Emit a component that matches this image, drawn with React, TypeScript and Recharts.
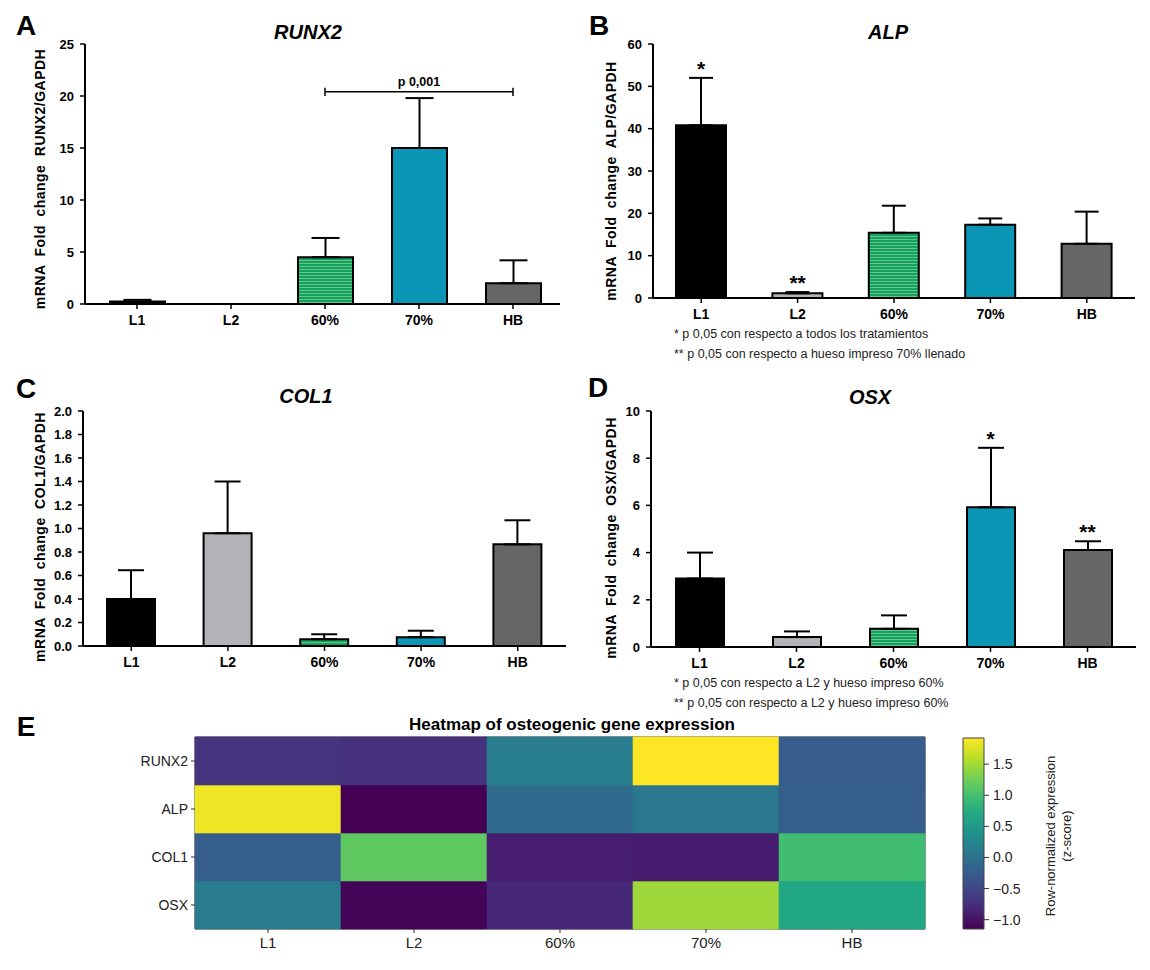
import React from "react";
import {
  BarChart,
  Bar,
  XAxis,
  YAxis,
  Cell,
  ErrorBar,
  ReferenceLine,
  ReferenceDot,
  ReferenceArea,
} from "recharts";

const FONT = '"Liberation Sans", Arial, Helvetica, sans-serif';

// groups shared by every panel
const groups = ["L1", "L2", "60%", "70%", "HB"];
const groupColors = ["#000000", "#b4b4b8", "#17a05a", "#0b96b5", "#666666"];

// A - RUNX2
const runx2Mean = [0.25, 0, 4.5, 15.0, 2.0];
const runx2Err = [0.15, 0, 1.85, 4.8, 2.2];
const runx2Ticks = [0, 5, 10, 15, 20, 25];

// B - ALP
const alpMean = [40.8, 1.1, 15.4, 17.3, 12.8];
const alpErr = [11.2, 0.3, 6.4, 1.5, 7.6];
const alpStars = ["*", "**", "", "", ""];
const alpTicks = [0, 10, 20, 30, 40, 50, 60];

// C - COL1
const col1Mean = [0.4, 0.96, 0.058, 0.075, 0.865];
const col1Err = [0.245, 0.44, 0.042, 0.055, 0.205];
const col1Ticks = [0, 0.2, 0.4, 0.6, 0.8, 1.0, 1.2, 1.4, 1.6, 1.8, 2.0];

// D - OSX
const osxMean = [2.9, 0.42, 0.77, 5.92, 4.11];
const osxErr = [1.1, 0.24, 0.57, 2.52, 0.37];
const osxStars = ["", "", "", "*", "**"];
const osxTicks = [0, 2, 4, 6, 8, 10];

// E - heatmap (row z-scores)
const heatGenes = ["RUNX2", "ALP", "COL1", "OSX"];
const heatRUNX2 = [-0.69, -0.72, 0.15, 1.92, -0.25];
const heatALP = [1.85, -1.15, -0.08, 0.06, -0.24];
const heatCOL1 = [-0.24, 1.15, -0.9, -0.92, 0.97];
const heatOSX = [0.12, -1.12, -0.8, 1.47, 0.68];
const zMin = -1.15;
const zMax = 1.92;
const zTicks = [-1.0, -0.5, 0.0, 0.5, 1.0, 1.5];

const VIRIDIS = [
  "#440154", "#482475", "#414487", "#355f8d", "#2a788e", "#21918c",
  "#22a884", "#44bf70", "#7ad151", "#bddf26", "#fde725",
];

function hexToRgb(h: string) {
  return [1, 3, 5].map((i) => parseInt(h.slice(i, i + 2), 16));
}

function viridis(t: number) {
  const c = Math.max(0, Math.min(1, t)) * 10;
  const i = Math.min(9, Math.floor(c));
  const f = c - i;
  const a = hexToRgb(VIRIDIS[i]);
  const b = hexToRgb(VIRIDIS[i + 1]);
  const m = a.map((v, k) => Math.round(v + (b[k] - v) * f));
  return `rgb(${m[0]},${m[1]},${m[2]})`;
}

type PanelProps = {
  pid: string;
  left: number;
  top: number;
  plotW: number;
  plotH: number;
  means: number[];
  errs: number[];
  stars?: string[];
  domain: [number, number];
  ticks: number[];
  barSize: number;
  cap: number;
  fmt?: (v: number) => string;
  padLeft?: number;
  bracket?: { from: string; to: string; mid: string; y: number; text: string };
};

function GenePanel(p: PanelProps) {
  const data = groups.map((g, i) => ({
    group: g,
    mean: p.means[i],
    err: [0, p.errs[i]],
    top: p.means[i] + p.errs[i],
    star: p.stars ? p.stars[i] : "",
  }));
  const ML = 55;
  const MT = 30;
  const MR = 10;
  const XH = 40;
  const b = p.bracket;
  return (
    <div style={{ position: "absolute", left: p.left - ML, top: p.top - MT }}>
      <BarChart
        width={p.plotW + ML + MR}
        height={p.plotH + MT + XH}
        data={data}
        margin={{ top: MT, right: MR, bottom: 0, left: 0 }}
        barSize={p.barSize}
      >
        <defs>
          <pattern id={`stripes-${p.pid}`} width={6} height={3} patternUnits="userSpaceOnUse">
            <rect width={6} height={3} fill="#17a05a" />
            <rect width={6} height={1} fill="#5ec890" />
          </pattern>
        </defs>
        <XAxis
          dataKey="group"
          height={XH}
          interval={0}
          padding={{ left: p.padLeft ?? 0, right: 0 }}
          axisLine={{ stroke: "#000", strokeWidth: 2 }}
          tickLine={{ stroke: "#000", strokeWidth: 1.5 }}
          tickSize={5}
          tickMargin={6}
          tick={{ fill: "#000", fontSize: 14, fontWeight: 700 }}
        />
        <YAxis
          type="number"
          domain={p.domain}
          ticks={p.ticks}
          interval={0}
          width={ML}
          tickFormatter={p.fmt}
          axisLine={{ stroke: "#000", strokeWidth: 2 }}
          tickLine={{ stroke: "#000", strokeWidth: 1.5 }}
          tickSize={5}
          tickMargin={6}
          tick={{ fill: "#000", fontSize: 13, fontWeight: 700 }}
        />
        <Bar dataKey="mean" stroke="#000" strokeWidth={2} isAnimationActive={false}>
          {data.map((d, i) => (
            <Cell key={d.group} fill={i === 2 ? `url(#stripes-${p.pid})` : groupColors[i]} />
          ))}
          <ErrorBar
            dataKey="err"
            width={p.cap}
            stroke="#000"
            strokeWidth={2}
            direction="y"
            isAnimationActive={false}
          />
        </Bar>
        {data
          .filter((d) => d.star)
          .map((d) => (
            <ReferenceDot
              key={`s-${d.group}`}
              x={d.group}
              y={d.top}
              r={0}
              label={{ value: d.star, position: "top", offset: 2, fontSize: 21, fontWeight: 700, fill: "#000" }}
            />
          ))}
        {b && (
          <ReferenceLine
            segment={[
              { x: b.from, y: b.y },
              { x: b.to, y: b.y },
            ]}
            stroke="#000"
            strokeWidth={1.5}
          />
        )}
        {b && (
          <ReferenceLine
            segment={[
              { x: b.from, y: b.y - 0.4 },
              { x: b.from, y: b.y + 0.4 },
            ]}
            stroke="#000"
            strokeWidth={1.5}
          />
        )}
        {b && (
          <ReferenceLine
            segment={[
              { x: b.to, y: b.y - 0.4 },
              { x: b.to, y: b.y + 0.4 },
            ]}
            stroke="#000"
            strokeWidth={1.5}
          />
        )}
        {b && (
          <ReferenceDot
            x={b.mid}
            y={b.y}
            r={0}
            label={{ value: b.text, position: "top", offset: 6, fontSize: 12.5, fontWeight: 700, fill: "#000" }}
          />
        )}
      </BarChart>
    </div>
  );
}

function Heatmap() {
  const rows = [heatRUNX2, heatALP, heatCOL1, heatOSX];
  const data = groups.map((g) => ({ group: g, RUNX2: 1, ALP: 1, COL1: 1, OSX: 1 }));
  const ML = 65;
  const MT = 5;
  const MR = 5;
  const XH = 32;
  const plotL = 195;
  const plotT = 737;
  const plotW = 730;
  const plotH = 192;
  const stackOrder = ["OSX", "COL1", "ALP", "RUNX2"];
  return (
    <div style={{ position: "absolute", left: plotL - ML, top: plotT - MT }}>
      <BarChart
        width={plotW + ML + MR}
        height={plotH + MT + XH}
        data={data}
        margin={{ top: MT, right: MR, bottom: 0, left: 0 }}
        barCategoryGap={0}
        barGap={0}
      >
        <XAxis
          dataKey="group"
          height={XH}
          interval={0}
          axisLine={false}
          tickLine={{ stroke: "#333" }}
          tickSize={4}
          tickMargin={4}
          tick={{ fill: "#222", fontSize: 15 }}
        />
        <YAxis
          type="number"
          domain={[0, 4]}
          ticks={[0.5, 1.5, 2.5, 3.5]}
          interval={0}
          width={ML}
          axisLine={false}
          tickLine={{ stroke: "#333" }}
          tickSize={4}
          tickMargin={3}
          tickFormatter={(v: number) => heatGenes[3 - Math.floor(v)]}
          tick={{ fill: "#222", fontSize: 14 }}
        />
        {stackOrder.map((gene) => {
          const z = rows[heatGenes.indexOf(gene)];
          return (
            <Bar key={gene} dataKey={gene} stackId="h" isAnimationActive={false}>
              {groups.map((g, j) => {
                const c = viridis((z[j] - zMin) / (zMax - zMin));
                return <Cell key={g} fill={c} stroke={c} strokeWidth={0.6} />;
              })}
            </Bar>
          );
        })}
        <ReferenceArea x1="L1" x2="HB" y1={0} y2={4} fill="none" stroke="#333" strokeWidth={1} ifOverflow="visible" />
      </BarChart>
    </div>
  );
}

function ColorBar() {
  const plotL = 963;
  const plotT = 738;
  const plotW = 21;
  const plotH = 191;
  const ML = 5;
  const MT = 5;
  const AW = 45;
  const fmtZ = (v: number) => (v < 0 ? "\u2212" : "") + Math.abs(v).toFixed(1);
  return (
    <div style={{ position: "absolute", left: plotL - ML, top: plotT - MT }}>
      <BarChart
        width={ML + plotW + AW}
        height={MT + plotH + 5}
        data={[{ name: "z", range: [zMin, zMax] }]}
        margin={{ top: MT, right: 0, bottom: 5, left: ML }}
        barCategoryGap={0}
      >
        <defs>
          <linearGradient id="viridisGrad" x1="0" y1="1" x2="0" y2="0">
            {VIRIDIS.map((c, i) => (
              <stop key={c} offset={`${i * 10}%`} stopColor={c} />
            ))}
          </linearGradient>
        </defs>
        <XAxis dataKey="name" hide />
        <YAxis
          orientation="right"
          type="number"
          domain={[zMin, zMax]}
          ticks={zTicks}
          interval={0}
          width={AW}
          axisLine={false}
          tickLine={{ stroke: "#333" }}
          tickSize={5}
          tickMargin={4}
          tickFormatter={fmtZ}
          tick={{ fill: "#222", fontSize: 14 }}
        />
        <Bar dataKey="range" fill="url(#viridisGrad)" stroke="#444" strokeWidth={1} isAnimationActive={false} />
      </BarChart>
    </div>
  );
}

type TxtProps = {
  x: number;
  y: number;
  size: number;
  bold?: boolean;
  italic?: boolean;
  center?: boolean;
  rotate?: boolean;
  color?: string;
  extra?: React.CSSProperties;
  children: React.ReactNode;
};

function Txt({ x, y, size, bold, italic, center, rotate, color, extra, children }: TxtProps) {
  let transform = center ? "translate(-50%, -50%)" : "translate(0, -50%)";
  if (rotate) transform = "translate(-50%, -50%) rotate(-90deg)";
  return (
    <div
      style={{
        position: "absolute",
        left: x,
        top: y,
        fontSize: size,
        fontWeight: bold ? 700 : 400,
        fontStyle: italic ? "italic" : "normal",
        lineHeight: 1,
        whiteSpace: "nowrap",
        color: color ?? "#000",
        transform,
        ...extra,
      }}
    >
      {children}
    </div>
  );
}

const yLabelStyle: React.CSSProperties = { letterSpacing: 0.5, wordSpacing: 4 };

export default function App() {
  return (
    <div
      style={{
        position: "absolute",
        left: 0,
        top: 0,
        width: 1150,
        height: 970,
        background: "#fff",
        fontFamily: FONT,
        overflow: "hidden",
      }}
    >
      {/* panel letters */}
      <Txt x={26} y={26} size={28} bold center>A</Txt>
      <Txt x={599} y={26} size={28} bold center>B</Txt>
      <Txt x={26} y={389} size={28} bold center>C</Txt>
      <Txt x={598} y={388} size={28} bold center>D</Txt>
      <Txt x={26} y={727} size={28} bold center>E</Txt>

      {/* titles */}
      <Txt x={308} y={32} size={20} bold italic center>RUNX2</Txt>
      <Txt x={888} y={32} size={20} bold italic center>ALP</Txt>
      <Txt x={306} y={396} size={20} bold italic center>COL1</Txt>
      <Txt x={870} y={397} size={20} bold italic center>OSX</Txt>

      {/* y-axis labels */}
      <Txt x={40} y={179} size={14} bold rotate extra={yLabelStyle}>mRNA Fold change RUNX2/GAPDH</Txt>
      <Txt x={611} y={181} size={14} bold rotate extra={yLabelStyle}>mRNA Fold change ALP/GAPDH</Txt>
      <Txt x={40} y={537} size={14} bold rotate extra={yLabelStyle}>mRNA Fold change COL1/GAPDH</Txt>
      <Txt x={611} y={538} size={14} bold rotate extra={yLabelStyle}>mRNA Fold change OSX/GAPDH</Txt>

      <GenePanel
        pid="a"
        left={85}
        top={44}
        plotW={475}
        plotH={260}
        padLeft={5}
        means={runx2Mean}
        errs={runx2Err}
        domain={[0, 25]}
        ticks={runx2Ticks}
        barSize={55}
        cap={14}
        bracket={{ from: "60%", to: "HB", mid: "70%", y: 20.4, text: "p 0,001" }}
      />
      <GenePanel
        pid="b"
        left={653}
        top={44}
        plotW={482}
        plotH={254}
        means={alpMean}
        errs={alpErr}
        stars={alpStars}
        domain={[0, 60]}
        ticks={alpTicks}
        barSize={50}
        cap={12}
      />
      <GenePanel
        pid="c"
        left={83}
        top={411}
        plotW={483}
        plotH={235}
        means={col1Mean}
        errs={col1Err}
        domain={[0, 2]}
        ticks={col1Ticks}
        fmt={(v: number) => v.toFixed(1)}
        barSize={48}
        cap={13}
      />
      <GenePanel
        pid="d"
        left={651}
        top={411}
        plotW={485}
        plotH={236}
        means={osxMean}
        errs={osxErr}
        stars={osxStars}
        domain={[0, 10]}
        ticks={osxTicks}
        barSize={48}
        cap={13}
      />

      {/* footnotes */}
      <Txt x={674} y={334} size={12.5} color="#222">* p 0,05 con respecto a todos los tratamientos</Txt>
      <Txt x={674} y={354} size={12.5} color="#222">** p 0,05 con respecto a hueso impreso 70% llenado</Txt>
      <Txt x={674} y={683} size={12.5} color="#222">* p 0,05 con respecto a L2 y hueso impreso 60%</Txt>
      <Txt x={674} y={703} size={12.5} color="#222">** p 0,05 con respecto a L2 y hueso impreso 60%</Txt>

      {/* heatmap */}
      <Txt x={572} y={724} size={17} bold center>Heatmap of osteogenic gene expression</Txt>
      <Heatmap />
      <ColorBar />
      <Txt x={1050} y={836} size={13} rotate color="#222">Row-normalized expression</Txt>
      <Txt x={1066} y={836} size={13} rotate color="#222">(z-score)</Txt>
    </div>
  );
}
